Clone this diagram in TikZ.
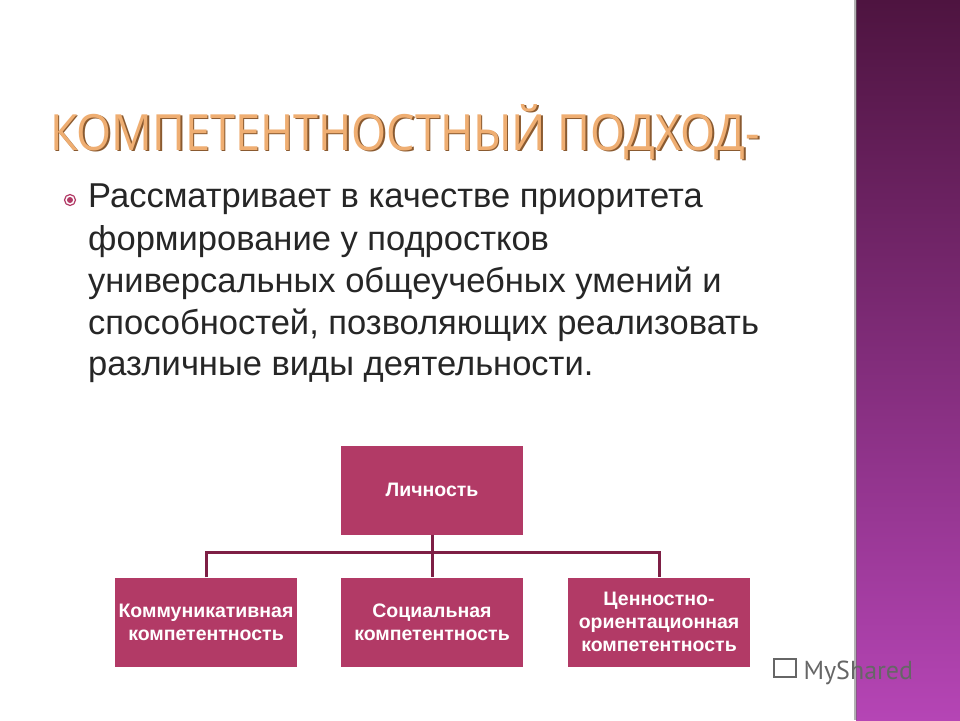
\documentclass[tikz,border=0pt]{standalone}
\usepackage{fontspec}
\setmainfont{Liberation Sans}
\newfontfamily\titlefont{Open Sans}
\newfontfamily\wmfont{PT Sans}
\definecolor{boxc}{HTML}{B23A66}
\definecolor{linec}{HTML}{7E1F45}
\definecolor{txt}{HTML}{262626}
\definecolor{ptop}{HTML}{4E1440}
\definecolor{pbot}{HTML}{B545B5}
\definecolor{tfill}{HTML}{EFAE72}
\definecolor{tedge}{HTML}{8A5A30}
\tikzset{
 box/.style={draw=none, fill=boxc, minimum width=182pt, minimum height=89pt, text=white, align=center, font=\bfseries\fontsize{19.5}{23}\selectfont, inner sep=1pt},
 conn/.style={draw=linec, line width=3pt},
 body/.style={anchor=base west, inner sep=0pt, text=txt, font=\fontsize{34.5}{34}\selectfont}
}
\begin{document}
\begin{tikzpicture}[x=1pt,y=-1pt]
\useasboundingbox (0,0) rectangle (960,720);
\fill[white] (0,0) rectangle (960,720);
\shade[top color=ptop, bottom color=pbot] (856,0) rectangle (960,720);
\fill[black!60, opacity=0.5] (854,0) rectangle (857,720);
% title
\node[anchor=base west, inner sep=0pt, text=tedge] (titleb) at (51.5,151.5) {\resizebox{710pt}{46pt}{\titlefont\fontsize{60}{60}\selectfont КОМПЕТЕНТНОСТНЫЙ ПОДХОД-}};
\node[anchor=base west, inner sep=0pt, text=tfill] (title) at (50,150) {\resizebox{710pt}{46pt}{\titlefont\fontsize{60}{60}\selectfont КОМПЕТЕНТНОСТНЫЙ ПОДХОД-}};
% bullet
\node[circle, draw=boxc, line width=1.2pt, minimum size=11pt, inner sep=0pt] (bul) at (70,200) {};
\fill[boxc] (bul.center) circle (3pt);
\node[body] (l1) at (88,207) {Рассматривает в качестве приоритета};
\node[body] (l2) at (88,250) {формирование у подростков};
\node[body] (l3) at (88,292) {универсальных общеучебных умений и};
\node[body] (l4) at (88,334) {способностей, позволяющих реализовать};
\node[body] (l5) at (88,375) {различные виды деятельности.};
% boxes
\node[box] (p) at (432,490) {Личность};
\node[box] (k) at (206,622) {Коммуникативная\\компетентность};
\node[box] (s) at (432,622) {Социальная\\компетентность};
\node[box] (c) at (659,622) {Ценностно-\\ориентационная\\компетентность};
\coordinate (j) at (432,552);
\draw[conn] (p.south) -- (s.north);
\draw[conn] (k.north) |- (j) -| (c.north);
% watermark
\node[anchor=west, text=black!60, font=\wmfont\fontsize{26}{26}\selectfont] (wm) at (800,673) {MyShared};
\node[draw=black!60, line width=1.3pt, minimum width=22pt, minimum height=18pt] (ic) at (785,668) {};
\end{tikzpicture}
\end{document}
